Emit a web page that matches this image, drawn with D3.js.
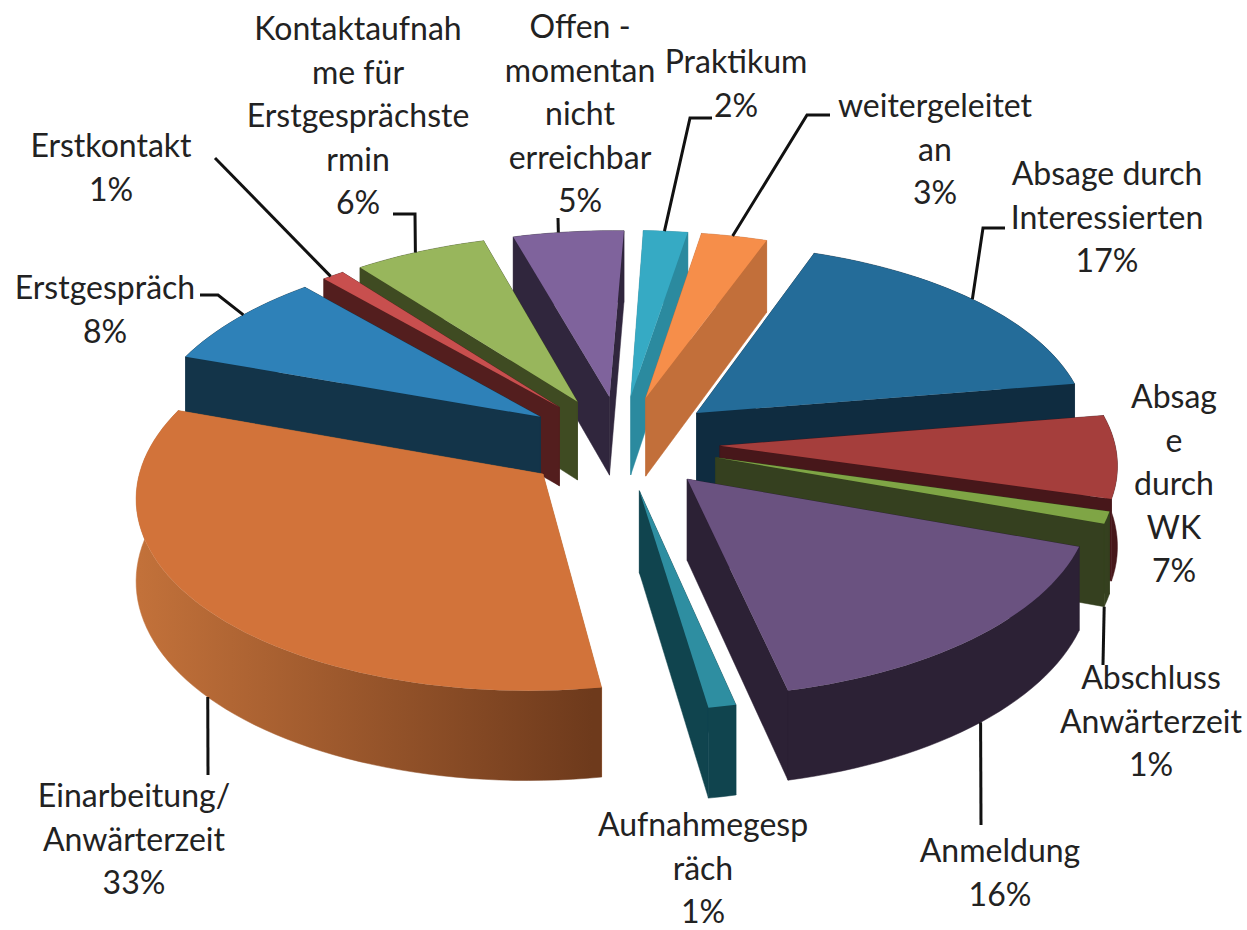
<!DOCTYPE html>
<html>
<head>
<meta charset="utf-8">
<script src="https://cdn.jsdelivr.net/npm/d3@7"></script>
<style>
    html, body { margin: 0; background: #fff; }
    svg { display: block; }
    .label { font-family: Lato, "Open Sans", sans-serif; font-size: 32px; fill: #222; text-anchor: middle; }
    .leader { fill: none; stroke: #111; stroke-width: 3; }
</style>
</head>
<body>
<svg width="1247" height="930"></svg>
<script>
// clockwise from the top of the pie
const categories = ["Praktikum", "weitergeleitet an", "Absage durch Interessierten", "Absage durch WK",
    "Abschluss Anwärterzeit", "Anmeldung", "Aufnahmegespräch", "Einarbeitung/ Anwärterzeit",
    "Erstgespräch", "Erstkontakt", "Kontaktaufnahme für Erstgesprächstermin", "Offen - momentan nicht erreichbar"];
const values = [2, 3, 17, 7, 1, 16, 1, 33, 8, 1, 6, 5];
const labelLines = [
    ["Praktikum", "2%"],
    ["weitergeleitet", "an", "3%"],
    ["Absage durch", "Interessierten", "17%"],
    ["Absag", "e", "durch", "WK", "7%"],
    ["Abschluss", "Anwärterzeit", "1%"],
    ["Anmeldung", "16%"],
    ["Aufnahmegesp", "räch", "1%"],
    ["Einarbeitung/", "Anwärterzeit", "33%"],
    ["Erstgespräch", "8%"],
    ["Erstkontakt", "1%"],
    ["Kontaktaufnah", "me für", "Erstgesprächste", "rmin", "6%"],
    ["Offen -", "momentan", "nicht", "erreichbar", "5%"]
];
const topColors = ["#36aac4", "#f68e4a", "#246c99", "#a53e3c", "#7fa545", "#6a5280",
    "#2e8ea1", "#d2733a", "#2e81b8", "#c84f4e", "#98b65c", "#7f639c"];
const sideColors = ["#2b8a9f", "#c26f3a", "#0f2c40", "#47171a", "#35401f", "#2c2135",
    "#10444e", "#b96c34", "#133449", "#531e1e", "#3f4b22", "#30263d"];

// label centre x, first baseline, the elbow of the leader and where it meets the rim (by x)
const labelLayout = [
    {x: 736, y: 73, elbow: [[712, 118], [690, 118]], hitX: 665},
    {x: 935, y: 117, elbow: [[830, 115], [807, 115]], hitX: 733},
    {x: 1107, y: 185, elbow: [[1005, 228], [983, 228]], hitX: 972},
    {x: 1174, y: 408},
    {x: 1151, y: 689, elbow: [[1103, 665]], hitX: 1103, wall: true},
    {x: 1000, y: 862, elbow: [[981, 825]], hitX: 981, wall: true},
    {x: 703, y: 836},
    {x: 134, y: 807, elbow: [[208, 775]], hitX: 208, wall: true},
    {x: 105, y: 299, elbow: [[200, 295], [218, 295]], hitX: 243},
    {x: 111, y: 157, elbow: [[215, 158]], hitX: 331},
    {x: 358, y: 40, elbow: [[393, 214], [415, 214]], hitX: 415},
    {x: 580, y: 38, elbow: [[558, 218]], hitX: 558}
];
const lineHeight = 43.5;

const svg = d3.select("svg");

// pie disc has radius 1, exploded slices move along their mid angle
const explode = 0.25, depth = 80, perspective = 0.094;
const shearX = 0.038, rollY = 0.026;
const x = d3.scaleLinear().domain([0, 1]).range([621, 1017]);
const y = d3.scaleLinear().domain([0, 1]).range([443, 633]);

function project(u, v, down) {
    const s = 1 / (1 - perspective * v);
    return [x((u - shearX * v) * s), y((v + rollY * u) * s) + (down ? depth * s : 0)];
}

const pie = d3.pie().sort(null).value(d => d);
const arcs = pie(values).map((d, i) => {
    const mid = (d.startAngle + d.endAngle) / 2;
    return {
        i, start: d.startAngle, end: d.endAngle, mid,
        ou: explode * Math.sin(mid),
        ov: -explode * Math.cos(mid)
    };
});

function disc(a, angle, r) {
    return [a.ou + r * Math.sin(angle), a.ov - r * Math.cos(angle)];
}
function rim(a, angle, down) {
    const [u, v] = disc(a, angle, 1);
    return project(u, v, down);
}
function rimRange(a, perRadian) {
    const n = Math.max(2, Math.ceil((a.end - a.start) * perRadian));
    return d3.range(n + 1).map(k => a.start + (a.end - a.start) * k / n);
}

const line = d3.line();

// every slice is a list of faces, drawn back to front
const faces = [];
arcs.forEach(a => {
    const apexTop = project(a.ou, a.ov, false), apexBot = project(a.ou, a.ov, true);
    const sideFace = angle => ({
        a, fill: sideColors[a.i],
        v: (a.ov + disc(a, angle, 1)[1]) / 2,
        points: [apexTop, rim(a, angle, false), rim(a, angle, true), apexBot]
    });
    const angles = rimRange(a, 30);
    faces.push(sideFace(a.start), sideFace(a.end));
    faces.push({
        a, fill: sideColors[a.i], wall: true,
        v: disc(a, a.mid, 1)[1],
        points: angles.map(t => rim(a, t, false)).concat(angles.slice().reverse().map(t => rim(a, t, true)))
    });
    a.topPoints = [apexTop].concat(angles.map(t => rim(a, t, false)));
});

// only the large orange wall has a visible light falloff
const defs = svg.append("defs");
const wallGrad = defs.append("linearGradient")
    .attr("id", "wallGrad")
    .attr("gradientUnits", "userSpaceOnUse")
    .attr("x1", 140).attr("x2", 592).attr("y1", 0).attr("y2", 0);
wallGrad.append("stop").attr("offset", "0%").attr("stop-color", "#c2713a");
wallGrad.append("stop").attr("offset", "100%").attr("stop-color", "#6e3a1c");

const order = arcs.slice().sort((p, q) => p.ov - q.ov);
const sliceGroup = svg.append("g");

order.forEach(a => {
    const g = sliceGroup.append("g").attr("class", "slice");
    const own = faces.filter(f => f.a === a).sort((p, q) => p.v - q.v);
    g.selectAll("path.face")
        .data(own)
        .join("path")
        .attr("class", "face")
        .attr("d", f => line(f.points) + "Z")
        .attr("fill", f => f.wall && a.i === 7 ? "url(#wallGrad)" : f.fill)
        .attr("stroke", f => f.wall && a.i === 7 ? "url(#wallGrad)" : f.fill)
        .attr("stroke-width", 0.5);
    g.append("path")
        .attr("d", line(a.topPoints) + "Z")
        .attr("fill", topColors[a.i]);
});

// leaders start on the rim point of their slice nearest the wanted x
const leaderGroup = svg.append("g");
labelLayout.forEach((l, i) => {
    if (!l.elbow) return;
    const a = arcs[i];
    const t = d3.least(rimRange(a, 300), t => Math.abs(rim(a, t, !!l.wall)[0] - l.hitX));
    const p = rim(a, t, !!l.wall);
    leaderGroup.append("path")
        .attr("class", "leader")
        .attr("d", line([p].concat(l.elbow.slice().reverse())));
});

// labels
const labelGroup = svg.append("g");
labelGroup.selectAll("text")
    .data(labelLines)
    .join("text")
    .attr("class", "label")
    .each(function (lines, i) {
        d3.select(this).selectAll("tspan")
            .data(lines)
            .join("tspan")
            .attr("x", labelLayout[i].x)
            .attr("y", (d, k) => labelLayout[i].y + k * lineHeight)
            .text(d => d);
    });
</script>
</body>
</html>
